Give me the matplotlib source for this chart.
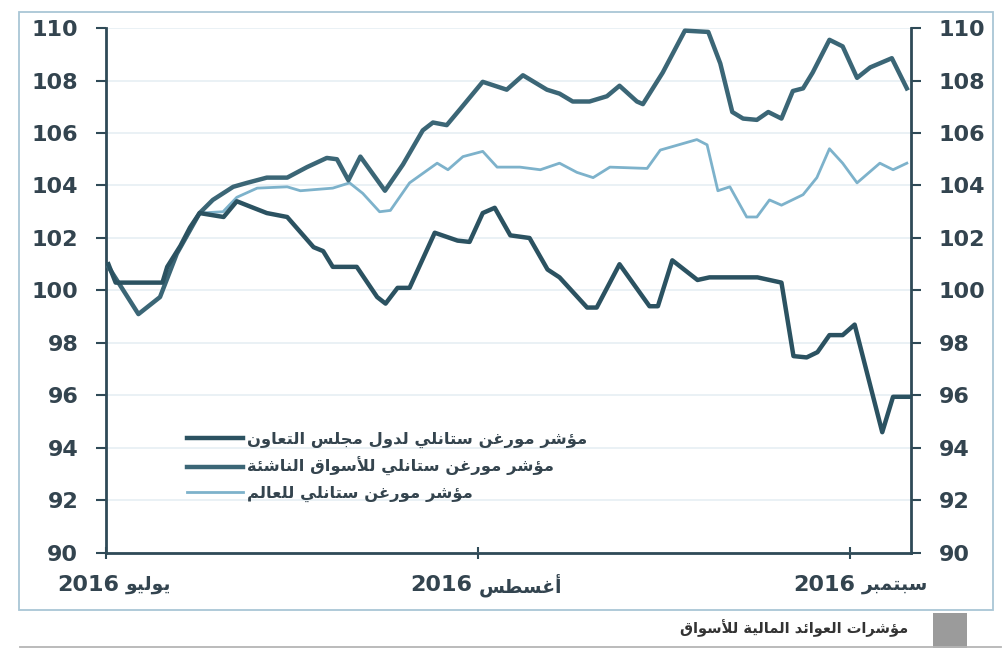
import matplotlib
import matplotlib.pyplot as plt
from matplotlib.patches import Rectangle
from matplotlib.lines import Line2D
import matplotlib.transforms as mtransforms

matplotlib.use('Agg')

plt.rcParams['font.family'] = ['DejaVu Sans']

# days since 1 July 2016
gcc_days = [0.2, 0.8, 4.7, 5.1, 6.2, 7.0, 7.8, 9.8, 10.9, 12.0, 13.4, 15.1, 17.3, 18.1, 18.9,
            20.9, 22.6, 23.3, 24.3, 25.3, 27.4, 29.3, 30.3, 31.4, 32.4, 33.7, 35.3, 36.8, 37.8,
            40.1, 40.9, 42.8, 45.3, 46.0, 47.2, 49.3, 50.3, 54.3, 56.3, 57.3, 58.4, 59.3, 60.3,
            61.4, 62.4, 64.7, 65.6, 67.0]
gcc_vals = [101.0, 100.3, 100.3, 100.9, 101.7, 102.4, 102.95, 102.8, 103.4, 103.2, 102.95, 102.8,
            101.65, 101.5, 100.9, 100.9, 99.75, 99.5, 100.1, 100.1, 102.2, 101.9, 101.85, 102.95,
            103.15, 102.1, 102.0, 100.8, 100.5, 99.35, 99.35, 101.0, 99.4, 99.4, 101.15, 100.4,
            100.5, 100.5, 100.3, 97.5, 97.45, 97.65, 98.3, 98.3, 98.7, 94.6, 95.95, 95.95]

em_days = [0.2, 2.7, 4.5, 5.9, 7.8, 8.9, 10.6, 11.75, 13.4, 15.1, 16.75, 18.4, 19.25, 20.2, 21.2,
           23.25, 24.75, 26.4, 27.25, 28.4, 29.5, 31.4, 33.4, 34.75, 36.75, 37.8, 38.9, 40.3,
           41.75, 42.8, 44.25, 44.75, 46.4, 48.25, 50.2, 51.2, 52.2, 53.1, 54.25, 55.2, 56.3,
           57.25, 58.1, 58.9, 60.3, 61.4, 62.6, 63.7, 65.5, 66.75]
em_vals = [100.9, 99.1, 99.75, 101.4, 102.95, 103.45, 103.95, 104.1, 104.3, 104.3, 104.7, 105.05,
           105.0, 104.2, 105.1, 103.8, 104.8, 106.1, 106.4, 106.3, 106.9, 107.95, 107.65, 108.2,
           107.65, 107.5, 107.2, 107.2, 107.4, 107.8, 107.2, 107.1, 108.3, 109.9, 109.85, 108.65,
           106.8, 106.55, 106.5, 106.8, 106.55, 107.6, 107.7, 108.3, 109.55, 109.3, 108.1, 108.5,
           108.85, 107.7]

world_days = [0.2, 2.7, 4.5, 5.9, 7.8, 9.75, 10.9, 12.6, 15.1, 16.2, 18.9, 20.3, 21.4, 22.8, 23.7,
              25.3, 27.6, 28.5, 29.75, 31.4, 32.6, 34.5, 36.2, 37.8, 39.25, 40.6, 42.0, 45.1,
              46.2, 49.25, 50.1, 51.0, 52.0, 53.4, 54.25, 55.3, 56.3, 58.1, 59.25, 60.3, 61.4,
              62.6, 64.5, 65.6, 66.75]
world_vals = [100.9, 99.1, 99.75, 101.4, 102.95, 103.0, 103.55, 103.9, 103.95, 103.8, 103.9, 104.1,
              103.7, 103.0, 103.05, 104.1, 104.85, 104.6, 105.1, 105.3, 104.7, 104.7, 104.6, 104.85,
              104.5, 104.3, 104.7, 104.65, 105.35, 105.75, 105.55, 103.8, 103.95, 102.8, 102.8,
              103.45, 103.25, 103.65, 104.3, 105.4, 104.85, 104.1, 104.85, 104.6, 104.85]

series_names = ['مؤشر مورغن ستانلي لدول مجلس التعاون',
                'مؤشر مورغن ستانلي للأسواق الناشئة',
                'مؤشر مورغن ستانلي للعالم']
month_ticks = [0, 31, 62]
month_names = ['يوليو', 'أغسطس', 'سبتمبر']
month_year = '2016'
y_ticks = list(range(90, 111, 2))
footer_text = 'مؤشرات العوائد المالية للأسواق'

# --- minimal arabic shaping (matplotlib draws no joined arabic by itself) ---
RIGHT = {'ا': 0xFE8D, 'أ': 0xFE83, 'ؤ': 0xFE85, 'د': 0xFEA9, 'ر': 0xFEAD, 'و': 0xFEED,
         'ة': 0xFE93, 'ﻻ': 0xFEFB, 'ﻷ': 0xFEF7}
DUAL = {'ئ': 0xFE89, 'ب': 0xFE8F, 'ت': 0xFE95, 'ج': 0xFE9D, 'س': 0xFEB1, 'ش': 0xFEB5,
        'ط': 0xFEC1, 'ع': 0xFEC9, 'غ': 0xFECD, 'ق': 0xFED5, 'ل': 0xFEDD, 'م': 0xFEE1,
        'ن': 0xFEE5, 'ي': 0xFEF1}


def shape_word(w):
    w = w.replace('لا', 'ﻻ').replace('لأ', 'ﻷ')
    out = []
    for i, c in enumerate(w):
        if c not in RIGHT and c not in DUAL:
            out.append(c)
            continue
        prev = w[i - 1] if i > 0 else ''
        nxt = w[i + 1] if i + 1 < len(w) else ''
        jp = prev in DUAL
        jn = c in DUAL and (nxt in DUAL or nxt in RIGHT)
        base = DUAL.get(c, RIGHT.get(c))
        if jp and jn:
            k = 3
        elif jp:
            k = 1
        elif jn:
            k = 2
        else:
            k = 0
        out.append(chr(base + k))
    return ''.join(out)


def ar(text):
    words = text.split(' ')
    vis = []
    for w in reversed(words):
        if w.isdigit():
            vis.append(w)
        else:
            vis.append(shape_word(w)[::-1])
    return ' '.join(vis)


fig = plt.figure(figsize=(10.06, 6.59), dpi=100)
ax = fig.add_axes([0.1054, 0.1609, 0.8002, 0.7966])

ink = '#2f4a57'
txt = '#33444f'
ax.plot(world_days, world_vals, color='#7db2cb', lw=2.0, solid_joinstyle='round', zorder=3)
ax.plot(em_days, em_vals, color='#3b6676', lw=3.2, solid_joinstyle='round', zorder=4)
ax.plot(gcc_days, gcc_vals, color='#2b5261', lw=3.2, solid_joinstyle='round', zorder=5)

ax.set_xlim(0, 67.1)
ax.set_ylim(90, 110)
ax.set_yticks(y_ticks)
ax.grid(axis='y', color='#e6eff4', lw=1.2)
ax.set_axisbelow(True)

for s in ['left', 'right', 'bottom']:
    ax.spines[s].set_color(ink)
    ax.spines[s].set_linewidth(2)
ax.spines['top'].set_visible(False)

ax.tick_params(axis='y', which='both', direction='out', length=7, width=1.5, color=ink,
               labelsize=16, labelcolor=txt, left=True, right=True,
               labelleft=True, labelright=True, pad=13)
for lab in ax.get_yticklabels():
    lab.set_fontweight('bold')

ax.set_xticks(month_ticks)
ax.set_xticklabels([])
ax.tick_params(axis='x', direction='inout', length=8, width=1.5, color=ink)

# month labels: year (bold) on the left, month name on the right of a split point
trans = mtransforms.blended_transform_factory(ax.transData, ax.transAxes)
split_x = [1.35, 30.8, 62.7]
for xx, name in zip(split_x, month_names):
    ax.annotate(month_year, (xx, -0.061), xycoords=trans, xytext=(-2.5, 0),
                textcoords='offset points', ha='right', va='center',
                fontsize=16, fontweight='bold', color=txt)
    ax.annotate(ar(name), (xx, -0.061), xycoords=trans, xytext=(2.5, 0),
                textcoords='offset points', ha='left', va='center',
                fontsize=13.5, fontweight='bold', color=txt)

handles = [Line2D([], [], color='#2b5261', lw=3.2),
           Line2D([], [], color='#3b6676', lw=3.2),
           Line2D([], [], color='#7db2cb', lw=2.0)]
leg = ax.legend(handles, [ar(n) for n in series_names], loc='upper left',
                bbox_to_anchor=(0.082, 0.259), frameon=False, fontsize=11.8,
                handlelength=3.4, handletextpad=0.25, labelspacing=0.57)
for t in leg.get_texts():
    t.set_color('#34444e')
    t.set_fontweight('bold')

# outer frame and footer
fig.patches.append(Rectangle((0.019, 0.074), 0.968, 0.908, transform=fig.transFigure,
                             fill=False, ec='#a9c6d6', lw=1.3))
fig.lines.append(Line2D([0.02, 0.995], [0.018, 0.018], transform=fig.transFigure,
                        color='#b5b5b5', lw=1.3))
fig.patches.append(Rectangle((0.927, 0.017), 0.034, 0.053, transform=fig.transFigure,
                             color='#9b9b9b', lw=0))
fig.text(0.903, 0.047, ar(footer_text), ha='right', va='center', fontsize=10.5,
         fontweight='bold', color='#333333')

fig.savefig('out.png', dpi=100, facecolor='white')
